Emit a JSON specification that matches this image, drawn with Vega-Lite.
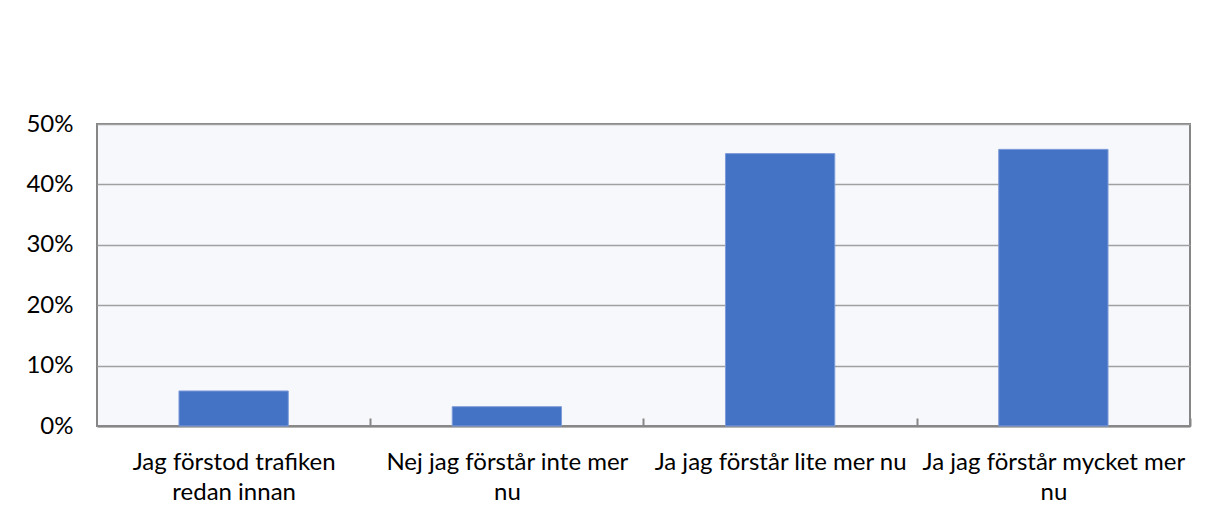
{
  "$schema": "https://vega.github.io/schema/vega-lite/v6.json",
  "width": 1093,
  "height": 302,
  "autosize": {"type": "none"},
  "padding": {"left": 97, "top": 124, "right": 17, "bottom": 89},
  "background": "white",
  "data": {
    "values": [
      {"svar": "Jag förstod trafiken redan innan", "andel": 0.058},
      {"svar": "Nej jag förstår inte mer nu", "andel": 0.032},
      {"svar": "Ja jag förstår lite mer nu", "andel": 0.451},
      {"svar": "Ja jag förstår mycket mer nu", "andel": 0.458}
    ]
  },
  "mark": {"type": "bar", "color": "#4472C4", "stroke": "#7E9CD8", "strokeWidth": 1},
  "encoding": {
    "x": {
      "field": "svar",
      "type": "nominal",
      "sort": null,
      "scale": {"paddingInner": 0.6, "paddingOuter": 0.3},
      "axis": {
        "title": null,
        "labelAngle": 0,
        "labelFont": "Lato",
        "labelFontSize": 24,
        "labelColor": "#000000",
        "labelPadding": 32,
        "labelLineHeight": 30,
        "labelBaseline": "top",
        "labelLimit": 400,
        "tickOffset": 136.6,
        "labelOffset": -136.6,
        "tickSize": -8,
        "tickColor": "#868686",
        "tickWidth": 2,
        "domainColor": "#868686",
        "domainWidth": 2,
        "labelExpr": "datum.value == 'Jag förstod trafiken redan innan' ? ['Jag förstod trafiken', 'redan innan'] : datum.value == 'Nej jag förstår inte mer nu' ? ['Nej jag förstår inte mer', 'nu'] : datum.value == 'Ja jag förstår mycket mer nu' ? ['Ja jag förstår mycket mer', 'nu'] : datum.value"
      }
    },
    "y": {
      "field": "andel",
      "type": "quantitative",
      "scale": {"domain": [0, 0.5]},
      "axis": {
        "title": null,
        "format": ".0%",
        "values": [0, 0.1, 0.2, 0.3, 0.4, 0.5],
        "labelFont": "Lato",
        "labelFontSize": 24,
        "labelColor": "#000000",
        "labelPadding": 24,
        "ticks": false,
        "domain": false,
        "gridColor": "#A0A0A0",
        "gridWidth": 1.3
      }
    }
  },
  "config": {
    "view": {"fill": "#F7F8FC", "stroke": "#868686", "strokeWidth": 2}
  }
}
